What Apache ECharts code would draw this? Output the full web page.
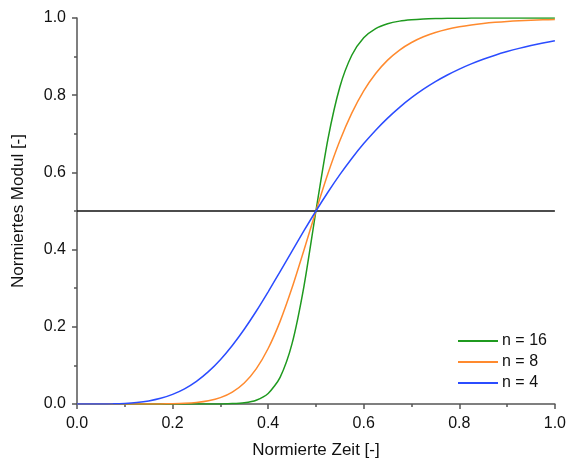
<!DOCTYPE html>
<html>
<head>
<meta charset="utf-8">
<script src="https://cdn.jsdelivr.net/npm/echarts@6/dist/echarts.min.js"></script>
<style>
  html, body { margin: 0; padding: 0; background: #fff; }
  #chart { width: 569px; height: 466px; }
</style>
</head>
<body>
<div id="chart"></div>
<script>
// normierte Zeit (x)
var zeit = [0, 0.025, 0.05, 0.075, 0.1, 0.125, 0.15, 0.175, 0.2, 0.225, 0.25, 0.275, 0.3, 0.325, 0.35, 0.375,
  0.4, 0.425, 0.45, 0.475, 0.5, 0.525, 0.55, 0.575, 0.6, 0.625, 0.65, 0.675, 0.7, 0.725, 0.75, 0.775,
  0.8, 0.825, 0.85, 0.875, 0.9, 0.925, 0.95, 0.975, 1.0];

// normierter Modul
var n16 = [0, 0, 0, 0, 0, 0, 0, 0, 0, 0, 0, 0.0001, 0.0003, 0.0010, 0.0033, 0.0099,
  0.0274, 0.0691, 0.1563, 0.3056, 0.5, 0.6858, 0.8213, 0.9035, 0.9487, 0.9726, 0.9852, 0.9919, 0.9954, 0.9974, 0.9985, 0.9991,
  0.9995, 0.9997, 0.9998, 0.9999, 0.9999, 1.0, 1.0, 1.0, 1.0];
var n8 = [0, 0, 0, 0, 0, 0, 0.0001, 0.0002, 0.0007, 0.0017, 0.0039, 0.0083, 0.0165, 0.0309, 0.0545, 0.0910,
  0.1437, 0.2141, 0.3009, 0.3988, 0.5, 0.5964, 0.6819, 0.7536, 0.8113, 0.8563, 0.8908, 0.9169, 0.9365, 0.9513, 0.9625, 0.9709,
  0.9772, 0.9821, 0.9859, 0.9888, 0.9910, 0.9928, 0.9942, 0.9952, 0.9961];
var n4 = [0, 0, 0.0001, 0.0005, 0.0016, 0.0039, 0.0080, 0.0148, 0.0250, 0.0394, 0.0588, 0.0838, 0.1147, 0.1515, 0.1936, 0.2403,
  0.2906, 0.3430, 0.3962, 0.4489, 0.5, 0.5486, 0.5942, 0.6362, 0.6746, 0.7094, 0.7407, 0.7686, 0.7935, 0.8155, 0.8351, 0.8523,
  0.8676, 0.8811, 0.8931, 0.9037, 0.9130, 0.9213, 0.9287, 0.9353, 0.9412];

var namen = ['n = 16', 'n = 8', 'n = 4'];
var farben = ['#1f9a1f', '#ff8a2e', '#2b4cff'];
var mitte = 0.5;

function paare(werte) {
  return zeit.map(function (x, i) { return [x, werte[i]]; });
}

var font = 'Liberation Sans, Arial, sans-serif';
var achse = {
  type: 'value',
  min: 0, max: 1, interval: 0.2,
  axisLine: { show: true, lineStyle: { color: '#555', width: 1.5 } },
  axisTick: { show: true, inside: false, length: 5, lineStyle: { color: '#555', width: 1.5 } },
  minorTick: { show: true, splitNumber: 2, length: 3, lineStyle: { color: '#555', width: 1.5 } },
  splitLine: { show: false },
  axisLabel: { fontFamily: font, fontSize: 16, color: '#111',
    formatter: function (v) { return v.toFixed(1); } },
  nameLocation: 'middle',
  nameTextStyle: { fontFamily: font, fontSize: 17, color: '#111' }
};

function linie(i, werte) {
  return {
    name: namen[i], type: 'line', data: paare(werte), smooth: 0.25, symbol: 'none',
    lineStyle: { color: farben[i], width: 1.5 }, itemStyle: { color: farben[i] }, z: 3 + i
  };
}

var blau = linie(2, n4);
blau.markLine = { silent: true, symbol: 'none', label: { show: false },
  lineStyle: { color: '#111', width: 1.5, type: 'solid' }, data: [{ yAxis: mitte }] };

var chart = echarts.init(document.getElementById('chart'));
chart.setOption({
  animation: false,
  backgroundColor: '#fff',
  grid: { left: 77, right: 12, top: 18, bottom: 62 },
  legend: {
    orient: 'vertical', left: 458, top: 333, padding: 0,
    icon: 'rect', itemWidth: 40, itemHeight: 2, itemGap: 5,
    textStyle: { fontFamily: font, fontSize: 16, color: '#111', lineHeight: 16, padding: [0, 0, 0, -1] },
    data: namen
  },
  xAxis: Object.assign({}, achse, { name: 'Normierte Zeit [-]', nameGap: 38,
    axisLabel: Object.assign({}, achse.axisLabel, { margin: 12 }) }),
  yAxis: Object.assign({}, achse, { name: 'Normiertes Modul [-]', nameGap: 50,
    axisLabel: Object.assign({}, achse.axisLabel, { margin: 11 }) }),
  series: [linie(0, n16), linie(1, n8), blau]
});
</script>
</body>
</html>
